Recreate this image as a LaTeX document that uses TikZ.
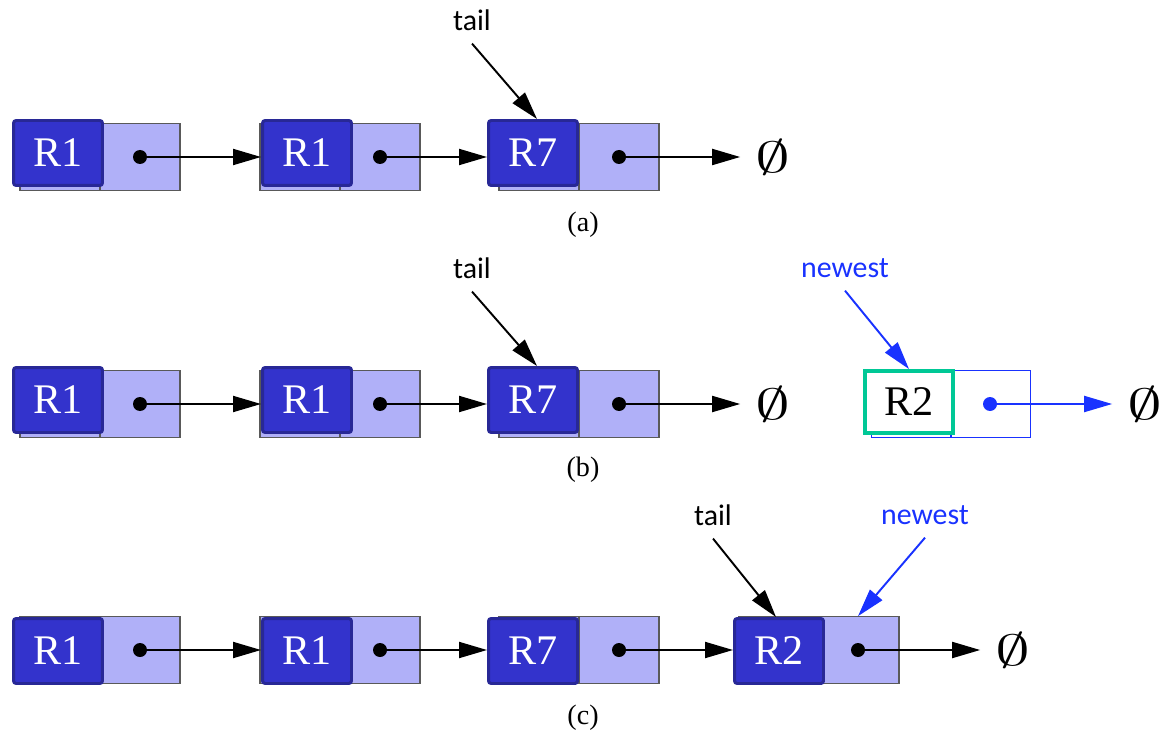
\documentclass[tikz,border=0pt]{standalone}
\usepackage{fontspec}
\usepackage{graphicx}
\setmainfont{Liberation Serif}
\newfontfamily\labelfont{Carlito}
\usetikzlibrary{arrows.meta}
\definecolor{cellfill}{RGB}{176,176,248}
\definecolor{valfill}{RGB}{51,51,204}
\definecolor{valedge}{RGB}{40,40,150}
\definecolor{newblue}{RGB}{25,50,255}
\definecolor{newgreen}{RGB}{0,200,150}
\tikzset{
  cell/.style={draw=black!65, fill=cellfill, line width=0.7pt, minimum width=3.2cm, minimum height=1.33cm, inner sep=0pt},
  val/.style={draw=valedge, fill=valfill, line width=1.7pt, rounded corners=1.5pt, minimum width=1.78cm, minimum height=1.3cm, inner sep=0pt, text=white, font=\fontsize{24}{26}\selectfont},
  ptr/.style={-{Triangle[length=0.56cm,width=0.32cm]}, line width=1.1pt},
  nil/.style={inner xsep=0.3cm, inner ysep=2pt, font=\fontsize{34}{34}\selectfont},
  lbl/.style={font=\labelfont\fontsize{17}{19}\selectfont, inner sep=1pt},
  captext/.style={font=\fontsize{16}{18}\selectfont}
}
\newcommand{\nullsym}{\scalebox{1.6}[1]{$\emptyset$}}
\begin{document}
\begin{tikzpicture}[x=0.02cm, y=-0.02cm]
\useasboundingbox (0,0) rectangle (1165,736);
% the three old nodes, same in every row
\foreach \r/\y/\dy in {a/157/-4, b/404/-4, c/650/1} {
  \foreach \i/\x/\dx/\t in {1/100/58/R1, 2/340/307/R1, 3/579/533/R7} {
    \node[cell] (\r\i) at (\x,\y) {};
    \draw[draw=black!65, line width=0.7pt] (\r\i.north) -- (\r\i.south);
    \node[val] (\r\i v) at (\dx,\y+\dy) {\t};
    \coordinate (\r\i p) at (\x+40,\y);
    \fill (\r\i p) circle[radius=0.14cm];
  }
  \draw[ptr] (\r1p) -- (\r2v.west |- \r1p);
  \draw[ptr] (\r2p) -- (\r3v.west |- \r2p);
}
% (a)
\node[nil] (aN) at (773,157) {\nullsym};
\draw[ptr] (a3p) -- (aN);
\node[lbl] (tailA) at (472,20) {tail};
\draw[ptr] ([yshift=-0.22cm]tailA.south) -- ([xshift=0.08cm]a3v.north);
\node[captext] (capA) at (583,225) {(a)};
% (b)
\node[nil] (bN) at (773,404) {\nullsym};
\draw[ptr] (b3p) -- (bN);
\node[lbl] (tailB) at (472,268) {tail};
\draw[ptr] ([yshift=-0.22cm]tailB.south) -- ([xshift=0.08cm]b3v.north);
\node[draw=newblue, line width=0.6pt, minimum width=3.18cm, minimum height=1.34cm, inner sep=0pt] (b4) at (951,404) {};
\draw[draw=newblue, line width=0.6pt] (b4.north) -- (b4.south);
\node[draw=newgreen, fill=white, line width=2.2pt, minimum width=1.76cm, minimum height=1.24cm, inner sep=0pt, font=\fontsize{24}{26}\selectfont] (b4v) at (909,402) {R2};
\coordinate (b4p) at (990,404);
\fill[newblue] (b4p) circle[radius=0.14cm];
\node[nil] (bN2) at (1145,404) {\nullsym};
\draw[ptr, newblue] (b4p) -- (bN2);
\node[lbl, text=newblue] (newB) at (845,268) {newest};
\draw[ptr, newblue] ([yshift=-0.22cm]newB.south) -- (b4v.north);
\node[captext] (capB) at (583,470) {(b)};
% (c)
\node[cell] (c4) at (819,650) {};
\draw[draw=black!65, line width=0.7pt] (c4.north) -- (c4.south);
\node[val] (c4v) at (779,651) {R2};
\coordinate (c4p) at (858,650);
\fill (c4p) circle[radius=0.14cm];
\draw[ptr] (c3p) -- (c4v.west |- c3p);
\node[nil] (cN) at (1013,650) {\nullsym};
\draw[ptr] (c4p) -- (cN);
\node[lbl] (tailC) at (713,515) {tail};
\draw[ptr] ([yshift=-0.22cm]tailC.south) -- ([xshift=-0.06cm]c4v.north);
\node[lbl, text=newblue] (newC) at (925,515) {newest};
\draw[ptr, newblue] ([yshift=-0.22cm]newC.south) -- (c4p |- c4.north);
\node[captext] (capC) at (583,718) {(c)};
\end{tikzpicture}
\end{document}
